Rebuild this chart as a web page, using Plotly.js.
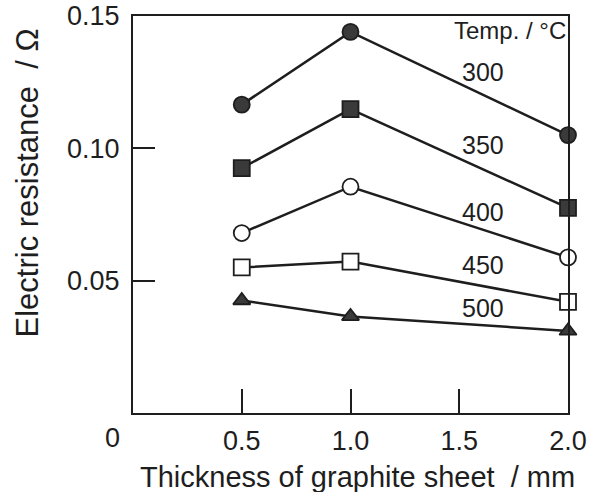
<!DOCTYPE html>
<html>
<head>
<meta charset="utf-8">
<script src="https://cdn.plot.ly/plotly-3.0.1.min.js"></script>
<style>html,body{margin:0;padding:0;background:#fff;}#chart{width:596px;height:492px;}</style>
</head>
<body>
<div id="chart"></div>
<script>
const thickness = [0.5, 1.0, 2.0];
const temps = ["300", "350", "400", "450", "500"];
const r300 = [0.1165, 0.1440, 0.1050];
const r350 = [0.0925, 0.1148, 0.0775];
const r400 = [0.0680, 0.0855, 0.0588];
const r450 = [0.0550, 0.0572, 0.0420];
const r500 = [0.0425, 0.0365, 0.0310];
const seriesValues = [r300, r350, r400, r450, r500];
const markerSymbols = ["circle", "square", "circle-open", "square-open", "triangle-up"];
const labelX = [1.61, 1.61, 1.61, 1.61, 1.61];
const labelY = [0.1288, 0.1011, 0.0761, 0.0561, 0.0398];
const xTicks = [0.5, 1.0, 1.5, 2.0];
const xTickText = ["0.5", "1.0", "1.5", "2.0"];
const yTicks = [0.05, 0.10, 0.15];
const yTickText = ["0.05", "0.10", "0.15"];

const font = "Liberation Sans, Arial, Helvetica, sans-serif";
const ink = "#1e1e1e";

const traces = seriesValues.map((vals, i) => {
  const open = markerSymbols[i].includes("open");
  return {
    x: thickness, y: vals, type: "scatter", mode: "lines+markers",
    name: temps[i],
    line: {color: ink, width: 2.5},
    marker: {symbol: markerSymbols[i].replace("-open", ""),
             size: markerSymbols[i].startsWith("triangle") ? 15 : 16,
             color: open ? "#ffffff" : "#3a3a3a",
             line: {color: ink, width: 1.8}},
    cliponaxis: false,
    showlegend: false
  };
});

const annotations = temps.map((t, i) => ({
  x: labelX[i], y: labelY[i], xref: "x", yref: "y", text: t, showarrow: false,
  font: {family: font, size: 25, color: ink}, xanchor: "center", yanchor: "middle"
}));
annotations.push({x: 2.0, y: 0.1447, xref: "x", yref: "y", text: "Temp. / °C", showarrow: false,
  font: {family: font, size: 24, color: ink}, xanchor: "right", yanchor: "middle"});
annotations.push({x: -0.242, y: 0.58, xref: "paper", yref: "paper", text: "Electric resistance  / Ω",
  textangle: -90, showarrow: false, font: {family: font, size: 31, color: ink}, xanchor: "center", yanchor: "middle"});
annotations.push({x: 0.515, y: -0.16, xref: "paper", yref: "paper", text: "Thickness of graphite sheet  / mm",
  showarrow: false, font: {family: font, size: 29, color: ink}, xanchor: "center", yanchor: "middle"});
annotations.push({x: -0.048, y: -0.063, xref: "paper", yref: "paper", text: "0",
  showarrow: false, font: {family: font, size: 27, color: ink}, xanchor: "center", yanchor: "middle"});

const layout = {
  width: 596, height: 492,
  margin: {l: 133, r: 28, t: 16, b: 79},
  paper_bgcolor: "#ffffff", plot_bgcolor: "#ffffff",
  xaxis: {range: [0, 2.0], tickvals: xTicks, ticktext: xTickText, ticks: "inside", ticklen: 24,
          tickwidth: 2, tickcolor: ink, showline: true, linewidth: 2, linecolor: ink, mirror: true,
          showgrid: false, zeroline: false, tickfont: {family: font, size: 27, color: ink},
          ticklabelstandoff: 3},
  yaxis: {range: [0, 0.15], tickvals: yTicks, ticktext: yTickText, ticks: "inside", ticklen: 22,
          tickwidth: 2, tickcolor: ink, showline: true, linewidth: 2, linecolor: ink, mirror: true,
          showgrid: false, zeroline: false, tickfont: {family: font, size: 27, color: ink},
          ticklabelstandoff: 6},
  annotations: annotations,
  showlegend: false
};

Plotly.newPlot("chart", traces, layout, {displayModeBar: false, staticPlot: true});
</script>
</body>
</html>
